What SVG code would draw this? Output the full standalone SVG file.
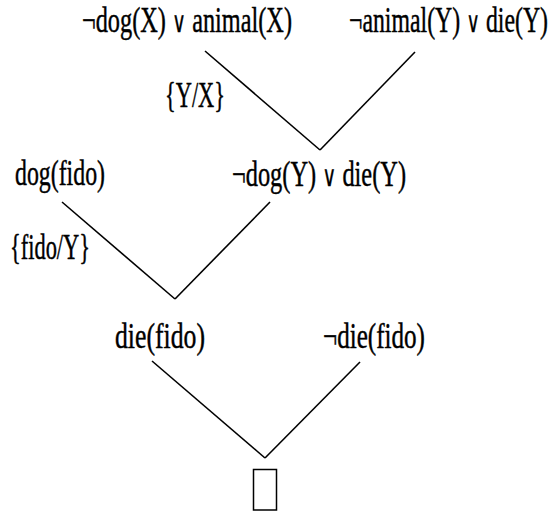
<svg xmlns="http://www.w3.org/2000/svg" width="560" height="512" viewBox="0 0 560 512">
<style>
text{font-family:"Liberation Serif","DejaVu Serif",serif;font-size:24px;fill:#000;stroke:#000;stroke-width:0.3}
.or{font-size:19px;stroke-width:0.2}
.c line{stroke:#000;stroke-width:1.6;fill:none}
</style>
<rect width="560" height="512" fill="#fff"/>
<g class="c" id="connectors">
<line x1="205" y1="51" x2="320" y2="150"/>
<line x1="415" y1="52" x2="320" y2="150"/>
<line x1="62" y1="202" x2="175" y2="299"/>
<line x1="270" y1="202" x2="175" y2="299"/>
<line x1="152" y1="361" x2="265" y2="458"/>
<line x1="360" y1="362" x2="265" y2="458"/>
</g>
<g id="n1" transform="scale(1,1.5)"><text x="82" y="21.3" textLength="210" lengthAdjust="spacingAndGlyphs">¬dog(X) <tspan class="or">∨</tspan> animal(X)</text></g>
<g id="n2" transform="scale(1,1.5)"><text x="349" y="21.3" textLength="199" lengthAdjust="spacingAndGlyphs">¬animal(Y) <tspan class="or">∨</tspan> die(Y)</text></g>
<g id="l1" transform="scale(1,1.5)"><text x="165" y="71.3" textLength="60" lengthAdjust="spacingAndGlyphs">{Y/X}</text></g>
<g id="n3" transform="scale(1,1.5)"><text x="15" y="123.3" textLength="90" lengthAdjust="spacingAndGlyphs">dog(fido)</text></g>
<g id="n4" transform="scale(1,1.5)"><text x="232" y="124" textLength="174" lengthAdjust="spacingAndGlyphs">¬dog(Y) <tspan class="or">∨</tspan> die(Y)</text></g>
<g id="l2" transform="scale(1,1.5)"><text x="10" y="172.7" textLength="80" lengthAdjust="spacingAndGlyphs">{fido/Y}</text></g>
<g id="n5" transform="scale(1,1.5)"><text x="115" y="232" textLength="90" lengthAdjust="spacingAndGlyphs">die(fido)</text></g>
<g id="n6" transform="scale(1,1.5)"><text x="323" y="232" textLength="102" lengthAdjust="spacingAndGlyphs">¬die(fido)</text></g>
<g id="n7"><rect x="253.5" y="469.5" width="23" height="40.5" fill="none" stroke="#000" stroke-width="1.5"/></g>
</svg>
